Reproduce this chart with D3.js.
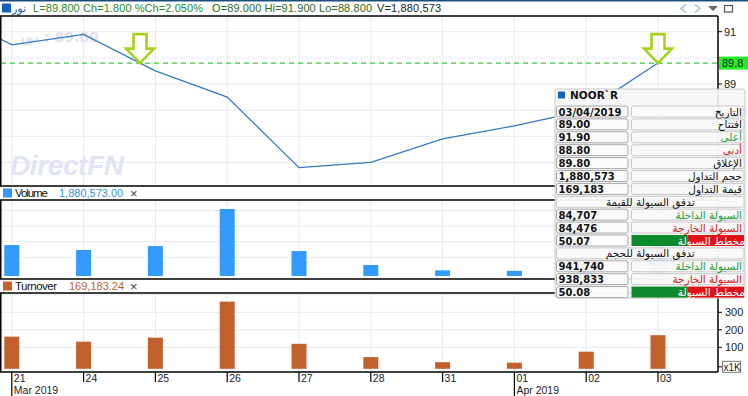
<!DOCTYPE html>
<html>
<head>
<meta charset="utf-8">
<script src="https://cdn.jsdelivr.net/npm/d3@7"></script>
<style>
  body { margin: 0; background: #fff; }
  svg { display: block; font-family: "Liberation Sans", Arial, sans-serif; }
  .grid line { stroke: #e8e9ee; stroke-width: 1; }
  .frame { stroke: #000; stroke-width: 1.5; fill: none; }
  .tick-lbl { font-family: "Liberation Sans Narrow", "Liberation Sans", Arial, sans-serif; font-size: 11px; fill: #222; }
  .ar { font-family: "DejaVu Sans", sans-serif; }
</style>
</head>
<body>
<div id="chart"></div>
<script>
// ---- data ----
const dates = ['2019-03-20', '2019-03-21', '2019-03-24', '2019-03-25', '2019-03-26', '2019-03-27',
               '2019-03-28', '2019-03-31', '2019-04-01', '2019-04-02', '2019-04-03'];
const closePrices = [91.9, 90.5, 90.9, 89.5, 88.5, 85.8, 86.0, 86.9, 87.4, 88.0, 89.8];
const volumes = [1500000, 1790000, 1470000, 1720000, 4090000, 1400000, 510000, 170000, 140000, 850000, 1880573];
const turnovers = [138000, 161000, 132000, 155000, 361000, 120000, 44000, 15000, 12000, 75000, 169183.24];
const alertLevel = 89.8;
const priceTicks = [86, 87, 88, 89, 90, 91];
const volumeTicks = [1, 2, 3, 4];          // millions
const turnoverTicks = [100, 200, 300];     // thousands
const monthNames = ['Jan', 'Feb', 'Mar', 'Apr', 'May', 'Jun', 'Jul', 'Aug', 'Sep', 'Oct', 'Nov', 'Dec'];

const symbolName = 'نور';
const quoteStats = ['L=89.800', 'Ch=1.800', '%Ch=2.050%'];
const quoteOHL = ['O=89.000', 'Hi=91.900', 'Lo=88.800'];
const quoteVol = 'V=1,880,573';

const infoTitle = 'NOOR`R';
const infoValues = ['03/04/2019', '89.00', '91.90', '88.80', '89.80', '1,880,573', '169,183', '',
                    '84,707', '84,476', '50.07', '', '941,740', '938,833', '50.08'];
const infoLabels = ['التاريخ', 'افتتاح', 'أعلى', 'أدنى', 'الإغلاق', 'حجم التداول', 'قيمة التداول',
                    'تدفق السيولة للقيمة', 'السيولة الداخلة', 'السيولة الخارجة', 'مخطط السيولة',
                    'تدفق السيولة للحجم', 'السيولة الداخلة', 'السيولة الخارجة', 'مخطط السيولة'];
const infoKinds = ['plain', 'plain', 'up', 'down', 'plain', 'plain', 'plain', 'section',
                   'up', 'down', 'gauge', 'section', 'up', 'down', 'gauge'];

// ---- layout ----
const width = 748, height = 396;
const plotL = 1, plotR = 718;
const pricePanel = { top: 16, bottom: 186 };
const volPanel = { top: 200, bottom: 279 };
const turnPanel = { top: 293, bottom: 372 };
const boxTop = 89;

const svg = d3.select('#chart').append('svg')
    .attr('width', width)
    .attr('height', height);

const x = d3.scalePoint()
    .domain(dates)
    .range([-60, 658]);

const priceY = d3.scaleLinear().domain([89, 91]).range([84, 31.7]);
const volY = d3.scaleLinear().domain([0, 4e6]).range([273, 210.4]);
const turnY = d3.scaleLinear().domain([0, 300000]).range([364.8, 312.3]);

const visibleDates = dates.filter(d => x(d) >= 0);

// clip paths for each panel
function addClip(id, p) {
    svg.append('clipPath').attr('id', id)
        .append('rect')
        .attr('x', plotL).attr('y', p.top)
        .attr('width', plotR - plotL).attr('height', p.bottom - p.top);
}
addClip('clip-price', pricePanel);
addClip('clip-vol', volPanel);
addClip('clip-turn', turnPanel);

// vertical + horizontal gridlines
function drawGrid(p, yScale, yVals) {
    const g = svg.append('g').attr('class', 'grid');
    g.selectAll('.vg').data(visibleDates).join('line')
        .attr('x1', d => x(d)).attr('x2', d => x(d))
        .attr('y1', p.top).attr('y2', p.bottom);
    g.selectAll('.hg').data(yVals).join('line')
        .attr('x1', plotL).attr('x2', plotR)
        .attr('y1', d => yScale(d)).attr('y2', d => yScale(d));
}
drawGrid(pricePanel, priceY, priceTicks);
drawGrid(volPanel, volY, volumeTicks.map(v => v * 1e6));
drawGrid(turnPanel, turnY, turnoverTicks.map(v => v * 1000).concat([400000]));

// ---- watermarks ----
svg.append('text')
    .attr('x', 10).attr('y', 175)
    .attr('textLength', 114)
    .style('font-size', '28px').style('font-weight', 'bold').style('font-style', 'italic')
    .style('fill', '#dfe4f6')
    .text('DirectFN');

svg.append('text')
    .attr('class', 'ar')
    .attr('x', 17).attr('y', 42)
    .style('font-size', '14px').style('font-weight', 'bold')
    .style('fill', '#e0e3ef')
    .text(symbolName + '\u200E : ' + d3.format('.2f')(closePrices[closePrices.length - 1]));

// ---- price panel ----
svg.append('line')
    .attr('x1', plotL).attr('x2', plotR)
    .attr('y1', priceY(alertLevel)).attr('y2', priceY(alertLevel))
    .attr('stroke', '#3cc83c').attr('stroke-width', 1.2)
    .attr('stroke-dasharray', '5,4');

const line = d3.line()
    .x((d, i) => x(dates[i]))
    .y(d => priceY(d));

svg.append('path')
    .datum(closePrices)
    .attr('clip-path', 'url(#clip-price)')
    .attr('fill', 'none')
    .attr('stroke', '#3479c6')
    .attr('stroke-width', 1.3)
    .attr('d', line);

// alert crossings
const hits = [];
for (let i = 0; i < closePrices.length - 1; i++) {
    const a = closePrices[i] - alertLevel, b = closePrices[i + 1] - alertLevel;
    if (a * b < 0 || (b === 0 && a !== 0)) {
        const t = (alertLevel - closePrices[i]) / (closePrices[i + 1] - closePrices[i]);
        hits.push(x(dates[i]) + t * (x(dates[i + 1]) - x(dates[i])));
    }
}
svg.selectAll('.arrow').data(hits).join('path')
    .attr('class', 'arrow')
    .attr('transform', d => `translate(${d},${priceY(alertLevel)})`)
    .attr('d', 'M0,0 L-14,-14.5 L-6.5,-14.5 L-6.5,-29 L6.5,-29 L6.5,-14.5 L14,-14.5 Z')
    .attr('fill', 'none')
    .attr('stroke', '#a6d21e')
    .attr('stroke-width', 2.6)
    .attr('stroke-linejoin', 'miter');

// price axis (right); labels hidden by the info box or the alert label are skipped
const pAxis = svg.append('g');
pAxis.selectAll('line').data(priceTicks).join('line')
    .attr('x1', plotR).attr('x2', plotR + 4)
    .attr('y1', d => priceY(d)).attr('y2', d => priceY(d))
    .attr('stroke', '#000');
pAxis.selectAll('text')
    .data(priceTicks.filter(d => priceY(d) < boxTop && Math.abs(priceY(d) - priceY(alertLevel)) > 10))
    .join('text')
    .attr('class', 'tick-lbl')
    .attr('x', plotR + 6).attr('y', d => priceY(d) + 4)
    .text(d => d);

svg.append('rect')
    .attr('x', plotR + 1).attr('y', priceY(alertLevel) - 6.5)
    .attr('width', width - plotR - 1).attr('height', 13)
    .attr('fill', '#22ee22');
svg.append('text')
    .attr('class', 'tick-lbl')
    .attr('x', plotR + 4).attr('y', priceY(alertLevel) + 4)
    .text(alertLevel);

// ---- volume panel ----
const barW = 15;
svg.append('g').attr('clip-path', 'url(#clip-vol)')
    .selectAll('rect').data(volumes).join('rect')
    .attr('x', (d, i) => x(dates[i]) - barW / 2)
    .attr('width', barW)
    .attr('y', d => volY(d))
    .attr('height', d => volY(0) + 3 - volY(d))
    .attr('fill', '#3399ff');

svg.append('g').selectAll('line').data(volumeTicks).join('line')
    .attr('x1', plotR).attr('x2', plotR + 4)
    .attr('y1', d => volY(d * 1e6)).attr('y2', d => volY(d * 1e6))
    .attr('stroke', '#000');

// ---- turnover panel ----
svg.append('g').attr('clip-path', 'url(#clip-turn)')
    .selectAll('rect').data(turnovers).join('rect')
    .attr('x', (d, i) => x(dates[i]) - barW / 2)
    .attr('width', barW)
    .attr('y', d => turnY(d))
    .attr('height', d => turnY(0) + 4 - turnY(d))
    .attr('fill', '#c2612b');

const tAxis = svg.append('g');
tAxis.selectAll('line').data(turnoverTicks.concat([0])).join('line')
    .attr('x1', plotR).attr('x2', plotR + 4)
    .attr('y1', d => turnY(d * 1000) + (d === 0 ? 2 : 0))
    .attr('y2', d => turnY(d * 1000) + (d === 0 ? 2 : 0))
    .attr('stroke', '#000');
tAxis.selectAll('text').data(turnoverTicks).join('text')
    .attr('class', 'tick-lbl')
    .attr('x', plotR + 7).attr('y', d => turnY(d * 1000) + 4)
    .text(d => d);
tAxis.append('rect')
    .attr('x', plotR + 4.5).attr('y', turnY(0) - 3.5)
    .attr('width', 18).attr('height', 11)
    .attr('fill', '#fff').attr('stroke', '#777');
tAxis.append('text')
    .attr('class', 'tick-lbl')
    .attr('x', plotR + 5.5).attr('y', turnY(0) + 6)
    .style('font-size', '10px')
    .text('x1K');

// ---- panel frames ----
[pricePanel.top, pricePanel.bottom, volPanel.top, volPanel.bottom, turnPanel.top, turnPanel.bottom]
    .forEach(yy => {
        svg.append('line').attr('class', 'frame')
            .attr('x1', 0).attr('x2', plotR)
            .attr('y1', yy).attr('y2', yy);
    });
[pricePanel, volPanel, turnPanel].forEach(p => {
    svg.append('line').attr('class', 'frame')
        .attr('x1', 0.75).attr('x2', 0.75).attr('y1', p.top).attr('y2', p.bottom);
    svg.append('line').attr('class', 'frame')
        .attr('x1', plotR).attr('x2', plotR).attr('y1', p.top).attr('y2', p.bottom);
});

// ---- x axis (dates) ----
const parse = d3.timeParse('%Y-%m-%d');
const xAxis = svg.append('g');
visibleDates.forEach((d, i) => {
    const dt = parse(d);
    const prev = i > 0 ? parse(visibleDates[i - 1]) : null;
    const newMonth = !prev || prev.getMonth() !== dt.getMonth();
    xAxis.append('line')
        .attr('x1', x(d)).attr('x2', x(d))
        .attr('y1', turnPanel.bottom).attr('y2', newMonth ? height : turnPanel.bottom + 10)
        .attr('stroke', '#000').attr('stroke-width', 1.2);
    xAxis.append('text')
        .attr('class', 'tick-lbl')
        .attr('x', x(d) + 2).attr('y', 382)
        .style('font-size', '10.5px')
        .text(d3.timeFormat('%d')(dt));
    if (newMonth) {
        xAxis.append('text')
            .attr('class', 'tick-lbl')
            .attr('x', x(d) + 2).attr('y', 394)
            .style('font-size', '10.5px')
            .text(monthNames[dt.getMonth()] + ' ' + dt.getFullYear());
    }
});

// ---- panel headers ----
function panelHeader(yMid, color, valColor, name, nameW, valueX, value) {
    svg.append('rect')
        .attr('x', 3).attr('y', yMid - 4.5)
        .attr('width', 9).attr('height', 9)
        .attr('fill', color);
    svg.append('text')
        .attr('x', 15).attr('y', yMid + 4)
        .attr('textLength', nameW)
        .style('font-size', '11.5px').style('fill', '#111')
        .text(name);
    svg.append('text')
        .attr('x', valueX).attr('y', yMid + 4)
        .style('font-size', '11px').style('fill', valColor)
        .text(value);
    svg.append('text')
        .attr('x', 130).attr('y', yMid + 4.5)
        .style('font-size', '13px').style('fill', '#444')
        .text('×');
}
panelHeader(193, '#3399ff', '#3a8fdc', 'Volume', 33, 59, d3.format(',.2f')(volumes[volumes.length - 1]));
panelHeader(286, '#c2612b', '#b86532', 'Turnover', 42, 69, d3.format(',.2f')(turnovers[turnovers.length - 1]));

// ---- top quote bar ----
svg.append('rect').attr('x', 0).attr('y', 0).attr('width', width).attr('height', 1.5)
    .attr('fill', '#1d4d7c');
svg.append('rect').attr('x', 2).attr('y', 3.5).attr('width', 9).attr('height', 9)
    .attr('fill', '#1560c0');
svg.append('text').attr('class', 'ar')
    .attr('x', 12).attr('y', 12)
    .style('font-size', '11px').style('fill', '#1560c0')
    .text(symbolName);
svg.append('text')
    .attr('x', 33).attr('y', 12)
    .attr('textLength', 170)
    .style('font-size', '11px').style('fill', '#2b8a1c')
    .text(quoteStats.join(' '));
svg.append('text')
    .attr('x', 212).attr('y', 12)
    .attr('textLength', 160)
    .style('font-size', '11px').style('fill', '#2d6a22')
    .text(quoteOHL.join(' '));
svg.append('text')
    .attr('x', 377).attr('y', 12)
    .attr('textLength', 64)
    .style('font-size', '11px').style('fill', '#222')
    .text(quoteVol);

// toolbar glyphs
svg.append('path').attr('d', 'M686,4.5 L681,8.5 L686,12.5').attr('fill', 'none').attr('stroke', '#8fb3e6').attr('stroke-width', 1.2);
svg.append('path').attr('d', 'M695,4.5 L700,8.5 L695,12.5').attr('fill', 'none').attr('stroke', '#8fb3e6').attr('stroke-width', 1.2);
svg.append('path').attr('d', 'M708,6 L718,6 L713,11 Z').attr('fill', '#666');
svg.append('rect').attr('x', 724.5).attr('y', 5.5).attr('width', 8).attr('height', 6.5)
    .attr('fill', 'none').attr('stroke', '#555').attr('stroke-width', 1.2);

// ---- info box ----
const box = svg.append('g');
const bx0 = 555, bx1 = 745, rowStep = 12.9, row0 = 111.5;
box.append('rect')
    .attr('x', bx0).attr('y', boxTop)
    .attr('width', bx1 - bx0).attr('height', 209)
    .attr('rx', 3)
    .attr('fill', '#f6f6f6').attr('fill-opacity', 0.9)
    .attr('stroke', '#c9c9c9');
box.append('rect').attr('x', 558).attr('y', 91.5).attr('width', 7).attr('height', 7).attr('fill', '#1560c0');
box.append('text').attr('class', 'ar')
    .attr('x', 570).attr('y', 99)
    .style('font-size', '10.5px').style('font-weight', 'bold').style('fill', '#111')
    .text(infoTitle);

const vx0 = 556.5, vx1 = 628, lx0 = 631.5, lx1 = 744;
const labelColor = { plain: '#111', up: '#17a035', down: '#e01414', section: '#111' };

infoLabels.forEach((lab, i) => {
    const cy = row0 + i * rowStep;
    const kind = infoKinds[i];
    if (kind === 'section') {
        box.append('rect').attr('x', vx0).attr('y', cy - 5.5).attr('width', lx1 - vx0).attr('height', 11)
            .attr('rx', 2).attr('fill', '#fafafa').attr('fill-opacity', 0.7).attr('stroke', '#c8c8c8');
        box.append('text').attr('class', 'ar')
            .attr('x', (vx0 + lx1) / 2).attr('y', cy + 4)
            .attr('text-anchor', 'middle')
            .style('font-size', '10.5px').style('fill', '#111')
            .text(lab);
        return;
    }
    box.append('rect').attr('x', vx0).attr('y', cy - 5.5).attr('width', vx1 - vx0).attr('height', 11)
        .attr('rx', 2).attr('fill', '#fbfbfb').attr('fill-opacity', 0.8).attr('stroke', '#a9a9a9');
    box.append('text').attr('class', 'ar')
        .attr('x', vx0 + 2).attr('y', cy + 4)
        .style('font-size', '10px').style('font-weight', 'bold').style('fill', '#111')
        .text(infoValues[i]);
    if (kind === 'gauge') {
        const f = parseFloat(infoValues[i]) / 100;
        box.append('rect').attr('x', lx0).attr('y', cy - 5.5).attr('width', (lx1 - lx0) * f).attr('height', 11)
            .attr('fill', '#0c8a2c');
        box.append('rect').attr('x', lx0 + (lx1 - lx0) * f).attr('y', cy - 5.5)
            .attr('width', (lx1 - lx0) * (1 - f)).attr('height', 11)
            .attr('fill', '#e01218');
        box.append('text').attr('class', 'ar')
            .attr('x', lx1 + 1).attr('y', cy + 4)
            .attr('text-anchor', 'end')
            .style('font-size', '10.5px').style('fill', '#fff')
            .text(lab);
        return;
    }
    box.append('rect').attr('x', lx0).attr('y', cy - 5.5).attr('width', lx1 - lx0).attr('height', 11)
        .attr('rx', 2).attr('fill', '#fafafa').attr('fill-opacity', 0.7).attr('stroke', '#c8c8c8');
    box.append('text').attr('class', 'ar')
        .attr('x', lx1 - 2).attr('y', cy + 4)
        .attr('text-anchor', 'end')
        .style('font-size', '10.5px').style('fill', labelColor[kind])
        .text(lab);
});
</script>
</body>
</html>
